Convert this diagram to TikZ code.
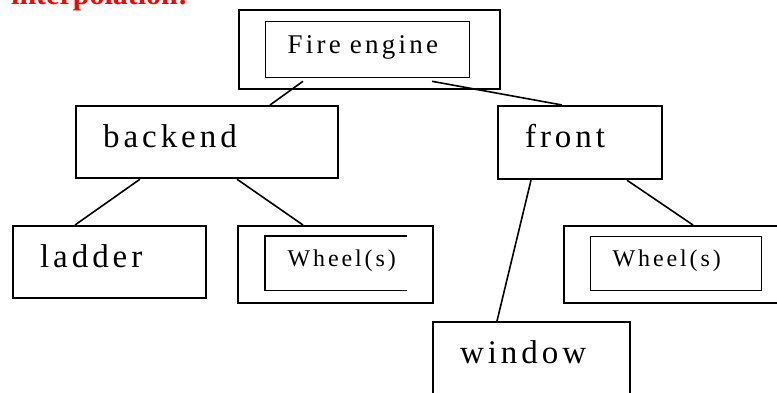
\documentclass[tikz,border=0pt]{standalone}
\usepackage{fontspec}
\setmainfont{Liberation Serif}
\newfontfamily\boxfont[LetterSpace=12]{Liberation Serif}
\usetikzlibrary{calc}

\begin{document}
\begin{tikzpicture}[x=1pt,y=-1pt,
    box/.style={draw,line width=2.2pt,anchor=north west,align=left,inner xsep=27pt,inner ysep=18pt,text height=23pt,font=\boxfont\fontsize{33}{36}\selectfont},
    frame/.style={draw,line width=2.2pt,anchor=north west,inner sep=0pt},
    part/.style={line width=1.3pt,anchor=north west,align=left,inner xsep=22pt,inner ysep=14pt,text height=16pt,font=\boxfont\fontsize{24}{26}\selectfont},
    link/.style={line width=1.6pt}]
      \useasboundingbox(0,0)rectangle(777,392);
      \begin{scope}\clip(0,0)rectangle(777,392);
      \node[anchor=base west,inner sep=0pt,text=red,font=\bfseries\fontsize{30}{30}\selectfont](title)at(11,4){interpolation:};
      
      \node[frame,minimum width=261pt,minimum height=79pt](engineframe)at(238,9){};
      \node[part,draw,text width=160pt,text height=18pt,text depth=10pt,font=\boxfont\fontsize{27}{30}\selectfont](engine)at(265,21){Fire engine};
      
      \node[box,text width=208pt,text depth=13pt](backend)at(75,105){backend};
      \node[box,text width=110pt,text depth=14pt](front)at(497,105){front};
      \node[box,text width=139pt,text depth=13pt](ladder)at(12,225){ladder};
      \node[box,text width=143pt,text depth=30pt](window)at(432,321){window};
      
      \node[frame,minimum width=195pt,minimum height=77pt](wheelframeL)at(237,225){};
      \node[part,text width=97pt,text depth=9pt](wheelL)at(265,236){Wheel(s)};
      \draw[line width=1.3pt](wheelL.north east)--(wheelL.north west)--(wheelL.south west)--(wheelL.south east);
      \node[frame,minimum width=230pt,minimum height=77pt](wheelframeR)at(563,225){};
      \node[part,draw,text width=127pt,text depth=10pt](wheelR)at(590,236){Wheel(s)};
      
      \draw[link]($(engine.south west)+(38,3)$)--($(backend.north west)+(195,0)$);
      \draw[link]($(engine.south west)+(167,3)$)--($(front.north west)+(65,0)$);
      \draw[link]($(backend.south west)+(65,0)$)--($(ladder.north west)+(63,0)$);
      \draw[link]($(backend.south west)+(162,0)$)--($(wheelframeL.north west)+(66,0)$);
      \draw[link]($(front.south west)+(34,0)$)--($(window.north west)+(65,0)$);
      \draw[link]($(front.south west)+(130,0)$)--($(wheelframeR.north west)+(130,0)$);
      \end{scope}
\end{tikzpicture}
\end{document}
